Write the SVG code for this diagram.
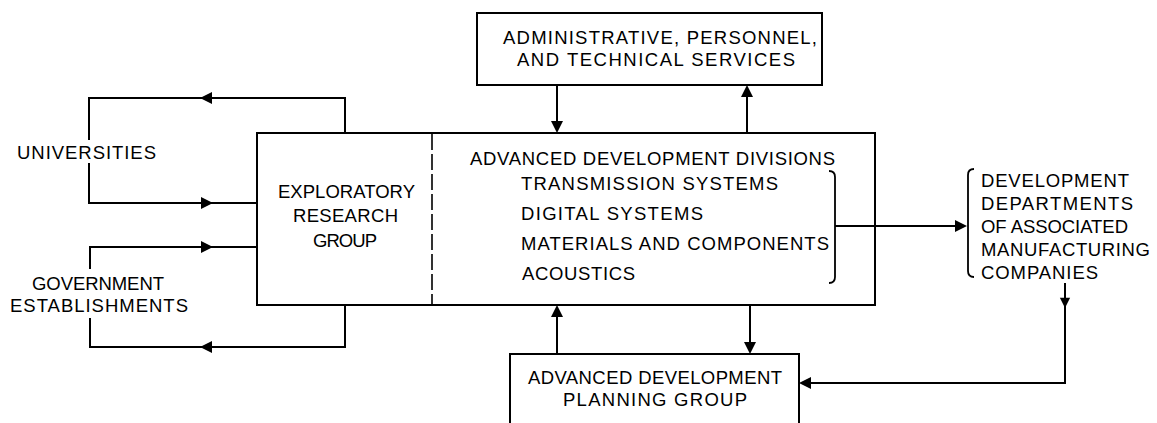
<svg xmlns="http://www.w3.org/2000/svg" width="1157" height="423" viewBox="0 0 1157 423">
<style>
.ln{fill:none;stroke:#000;stroke-width:2;stroke-linecap:square}
.bx{fill:none;stroke:#000;stroke-width:2}
.br{fill:none;stroke:#000;stroke-width:1.8}
text{font-family:"Liberation Sans",Arial,sans-serif;font-size:18.5px;fill:#000}
.ah{fill:#000}
</style>
<defs>
<path id="ah" d="M0,0 L-12,-6 L-12,6 Z"/>
</defs>
<rect width="1157" height="423" fill="#fff"/>

<g id="admin">
<rect class="bx" x="477" y="13" width="345" height="72"/>
<text x="503" y="44" textLength="314" lengthAdjust="spacing">ADMINISTRATIVE, PERSONNEL,</text>
<text x="517" y="66" textLength="278" lengthAdjust="spacing">AND TECHNICAL SERVICES</text>
</g>

<g id="main">
<rect class="bx" x="257" y="133" width="618" height="172"/>
<line x1="432" y1="134" x2="432" y2="304" stroke="#000" stroke-width="1.6" stroke-dasharray="16,4"/>
</g>

<g id="exploratory">
<text x="278" y="198" textLength="137" lengthAdjust="spacing">EXPLORATORY</text>
<text x="293" y="222" textLength="105" lengthAdjust="spacing">RESEARCH</text>
<text x="313" y="247" textLength="64" lengthAdjust="spacing">GROUP</text>
</g>

<g id="divisions">
<text x="470" y="165" textLength="365" lengthAdjust="spacing">ADVANCED DEVELOPMENT DIVISIONS</text>
<text x="521" y="190" textLength="257" lengthAdjust="spacing">TRANSMISSION SYSTEMS</text>
<text x="521" y="220" textLength="182" lengthAdjust="spacing">DIGITAL SYSTEMS</text>
<text x="521" y="250" textLength="308" lengthAdjust="spacing">MATERIALS AND COMPONENTS</text>
<text x="522" y="280" textLength="113" lengthAdjust="spacing">ACOUSTICS</text>
<path class="br" d="M829,171 Q835,171 835,177 V277 Q835,283 829,283"/>
</g>

<g id="universities">
<text x="17" y="159" textLength="139" lengthAdjust="spacing">UNIVERSITIES</text>
</g>

<g id="government">
<text x="32" y="290" textLength="132" lengthAdjust="spacing">GOVERNMENT</text>
<text x="10" y="312" textLength="178" lengthAdjust="spacing">ESTABLISHMENTS</text>
</g>

<g id="development">
<path class="br" d="M974,169 Q968,169 968,175 V271 Q968,277 974,277"/>
<text x="981" y="187" textLength="148" lengthAdjust="spacing">DEVELOPMENT</text>
<text x="981" y="210" textLength="152" lengthAdjust="spacing">DEPARTMENTS</text>
<text x="981" y="233" textLength="147" lengthAdjust="spacing">OF ASSOCIATED</text>
<text x="981" y="256" textLength="169" lengthAdjust="spacing">MANUFACTURING</text>
<text x="981" y="279" textLength="117" lengthAdjust="spacing">COMPANIES</text>
</g>

<g id="planning">
<path class="bx" d="M510,424 V354 H799 V424"/>
<text x="528" y="384" textLength="254" lengthAdjust="spacing">ADVANCED DEVELOPMENT</text>
<text x="563" y="406" textLength="184" lengthAdjust="spacing">PLANNING GROUP</text>
</g>

<g id="connectors">
<path class="ln" d="M345,133 V98 H89 V139"/>
<path class="ln" d="M89,164 V203 H257"/>
<use href="#ah" class="ah" transform="translate(200,98) rotate(180)"/>
<use href="#ah" class="ah" transform="translate(213,203)"/>
<path class="ln" d="M257,247 H90 V268"/>
<path class="ln" d="M90,319 V347 H345 V305"/>
<use href="#ah" class="ah" transform="translate(213,247)"/>
<use href="#ah" class="ah" transform="translate(200,347) rotate(180)"/>
<line class="ln" x1="557" y1="85" x2="557" y2="125"/>
<use href="#ah" class="ah" transform="translate(557,133) rotate(90)"/>
<line class="ln" x1="747" y1="133" x2="747" y2="93"/>
<use href="#ah" class="ah" transform="translate(747,85) rotate(-90)"/>
<line class="ln" x1="557" y1="354" x2="557" y2="313"/>
<use href="#ah" class="ah" transform="translate(557,305) rotate(-90)"/>
<line class="ln" x1="750" y1="305" x2="750" y2="346"/>
<use href="#ah" class="ah" transform="translate(750,354) rotate(90)"/>
<line class="ln" x1="836" y1="226" x2="958" y2="226"/>
<use href="#ah" class="ah" transform="translate(967,226)"/>
<path class="ln" d="M1065,284 V383 H808"/>
<use href="#ah" class="ah" transform="translate(1065,308) rotate(90) scale(0.85)"/>
<use href="#ah" class="ah" transform="translate(799,383) rotate(180)"/>
</g>
</svg>
